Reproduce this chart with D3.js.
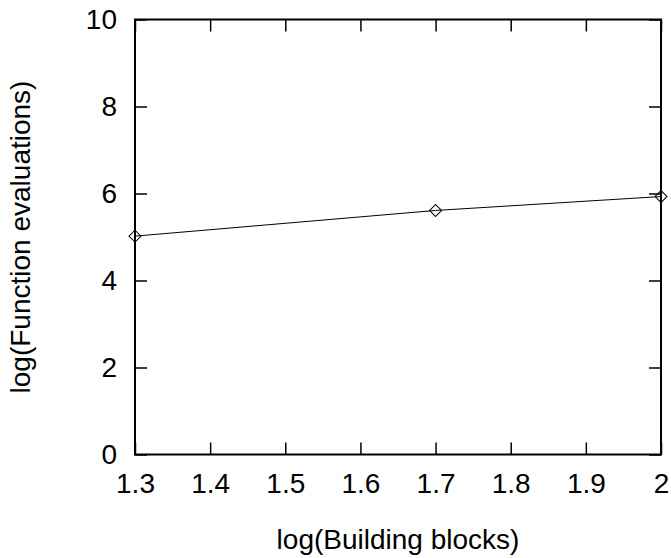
<!DOCTYPE html>
<html>
<head>
<meta charset="utf-8">
<script src="https://cdn.jsdelivr.net/npm/d3@7"></script>
<style>
    body { margin: 0; background: #fff; }
    text { font-family: "Liberation Sans", Arial, sans-serif; fill: #000; }
</style>
</head>
<body>
<svg id="chart" width="671" height="558"></svg>
<script>
(function () {
    'use strict';

    var blocks = [1.3, 1.7, 2.0];
    var evaluations = [5.02, 5.61, 5.93];
    var xTicks = [1.3, 1.4, 1.5, 1.6, 1.7, 1.8, 1.9, 2.0];
    var yTicks = [0, 2, 4, 6, 8, 10];

    var width = 671;
    var height = 558;
    var margin = { top: 19.5, right: 10, bottom: 103.5, left: 135 };
    var plotW = width - margin.left - margin.right;
    var plotH = height - margin.top - margin.bottom;
    var tickLen = 12;
    var fontSize = '28px';

    var x = d3.scaleLinear().domain([1.3, 2.0]).range([0, plotW]);
    var y = d3.scaleLinear().domain([0, 10]).range([plotH, 0]);

    var svg = d3.select('#chart')
        .append('g')
        .attr('transform', 'translate(' + margin.left + ',' + margin.top + ')');

    var fmtX = function (d) { return d === 2 ? '2' : d3.format('.1f')(d); };

    // inward ticks on all four sides, like gnuplot
    svg.append('g')
        .attr('transform', 'translate(0,' + plotH + ')')
        .call(d3.axisBottom(x).tickValues(xTicks).tickSize(-tickLen).tickPadding(19).tickFormat(fmtX));
    svg.append('g')
        .call(d3.axisTop(x).tickValues(xTicks).tickSize(-tickLen).tickFormat(''));
    svg.append('g')
        .call(d3.axisLeft(y).tickValues(yTicks).tickSize(-tickLen).tickPadding(18));
    svg.append('g')
        .attr('transform', 'translate(' + plotW + ',0)')
        .call(d3.axisRight(y).tickValues(yTicks).tickSize(-tickLen).tickFormat(''));

    svg.selectAll('.domain').remove();
    svg.selectAll('.tick line').attr('stroke', '#000').attr('stroke-width', 1.5);
    svg.selectAll('.tick text').style('font-size', fontSize).attr('fill', '#000');

    svg.append('rect')
        .attr('width', plotW)
        .attr('height', plotH)
        .attr('fill', 'none')
        .attr('stroke', '#000')
        .attr('stroke-width', 2);

    var points = blocks.map(function (b, i) {
        return { x: b, y: evaluations[i] };
    });

    var line = d3.line()
        .x(function (d) { return x(d.x); })
        .y(function (d) { return y(d.y); });

    svg.append('path')
        .datum(points)
        .attr('d', line)
        .attr('fill', 'none')
        .attr('stroke', '#000')
        .attr('stroke-width', 1);

    var diamond = d3.symbol().type(d3.symbolSquare).size(72);
    svg.selectAll('.pt')
        .data(points)
        .enter().append('path')
        .attr('class', 'pt')
        .attr('d', diamond)
        .attr('transform', function (d) {
            return 'translate(' + x(d.x) + ',' + y(d.y) + ') rotate(45)';
        })
        .attr('fill', 'none')
        .attr('stroke', '#000')
        .attr('stroke-width', 1);

    svg.append('text')
        .attr('x', plotW / 2)
        .attr('y', 529.5)
        .attr('text-anchor', 'middle')
        .style('font-size', fontSize)
        .text('log(Building blocks)');

    svg.append('text')
        .attr('transform', 'translate(' + (30 - margin.left) + ',' + (plotH / 2) + ') rotate(-90)')
        .attr('text-anchor', 'middle')
        .style('font-size', fontSize)
        .text('log(Function evaluations)');
})();
</script>
</body>
</html>
